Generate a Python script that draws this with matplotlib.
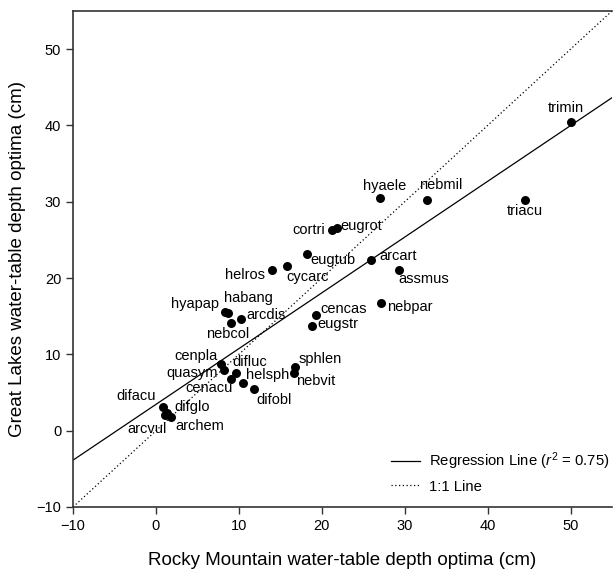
import matplotlib
matplotlib.use("Agg")
import matplotlib.pyplot as plt
import numpy as np

plt.rcParams['font.family'] = ['Liberation Sans', 'DejaVu Sans']
plt.rcParams['mathtext.fontset'] = 'custom'
plt.rcParams['mathtext.rm'] = 'Liberation Sans'
plt.rcParams['mathtext.it'] = 'Liberation Sans:italic'

# Data
species = ["trimin", "triacu", "hyaele", "nebmil", "cortri", "eugrot", "eugtub",
           "helros", "cycarc", "arcart", "assmus", "nebpar", "cencas", "eugstr",
           "hyapap", "habang", "arcdis", "nebcol", "cenpla", "quasym", "difluc",
           "cenacu", "helsph", "difobl", "sphlen", "nebvit", "difacu", "difglo",
           "arcvul", "archem"]
rocky = [50.1, 44.5, 27.0, 32.7, 21.2, 21.8, 18.2,
         14.0, 15.8, 25.9, 29.3, 27.1, 19.3, 18.8,
         8.3, 8.7, 10.3, 9.0, 7.8, 8.2, 9.7,
         9.1, 10.5, 11.8, 16.8, 16.6, 0.8, 1.3,
         1.1, 1.8]
great_lakes = [40.5, 30.2, 30.5, 30.2, 26.3, 26.6, 23.1,
               21.1, 21.6, 22.4, 21.1, 16.7, 15.2, 13.7,
               15.6, 15.4, 14.6, 14.1, 8.8, 8.0, 7.6,
               6.8, 6.2, 5.5, 8.4, 7.5, 3.1, 2.3,
               2.0, 1.8]
# label offsets (pixels, x right / y up)
label_dx = [-6, 0, 5, 14, -23, 25, 26,
            -27, 21, 27, 25, 29, 28, 26,
            -30, 20, 25, -3, -25, -32, 13,
            -22, 25, 20, 25, 22, -26, 25,
            -18, 29]
label_dy = [14, -11, 12, 15, 0, 2, -6,
            -5, -11, 4, -9, -4, 6, 2,
            8, 15, 4, -11, 8, -3, 11,
            -9, 8, -11, 8, -8, 11, 6,
            -14, -9]

xticks = [-10, 0, 10, 20, 30, 40, 50]
yticks = [-10, 0, 10, 20, 30, 40, 50]
r2 = 0.75

fig = plt.figure(figsize=(6.13, 5.71), dpi=100)
ax = fig.add_axes([73/613, 64/571, 539/613, 496/571])

ax.set_xlim(-10, 55)
ax.set_ylim(-10, 55)

slope, intercept = np.polyfit(rocky, great_lakes, 1)
xx = np.array([-10, 55])
ax.plot(xx, intercept + slope * xx, color='black', lw=0.9,
        label=f"Regression Line ($r^2$ = {r2:.2f})")
ax.plot(xx, xx, color='black', lw=0.9, linestyle=(0, (1, 2)), label="1:1 Line")

ax.scatter(rocky, great_lakes, s=42, color='black', zorder=3, linewidths=0)

for name, x, y, dx, dy in zip(species, rocky, great_lakes, label_dx, label_dy):
    ax.annotate(name, (x, y), xytext=(dx, dy), textcoords='offset pixels',
                ha='center', va='center', fontsize=10.5, color='black')

ax.set_xticks(xticks)
ax.set_yticks(yticks)
ax.set_xticklabels([str(t).replace('-', '\u2212') for t in xticks])
ax.set_yticklabels([str(t).replace('-', '\u2212') for t in yticks])
ax.tick_params(direction='out', length=5, width=1, labelsize=10.5, colors='#333333',
               labelcolor='black')
for s in ['left', 'bottom', 'top']:
    ax.spines[s].set_color('#333333')
    ax.spines[s].set_linewidth(1.2)
ax.spines['right'].set_visible(False)

ax.set_xlabel("Rocky Mountain water-table depth optima (cm)", fontsize=13.5, labelpad=14)
ax.set_ylabel("Great Lakes water-table depth optima (cm)", fontsize=13.5)
ax.yaxis.set_label_coords(-0.088, 0.5)

ax.legend(loc='lower right', frameon=False, fontsize=10.7, handlelength=2.0,
          handletextpad=0.6, borderaxespad=0.0, borderpad=0.3, labelspacing=0.5,
          bbox_to_anchor=(1.004, 0.018))

fig.savefig("out.png", dpi=100)
